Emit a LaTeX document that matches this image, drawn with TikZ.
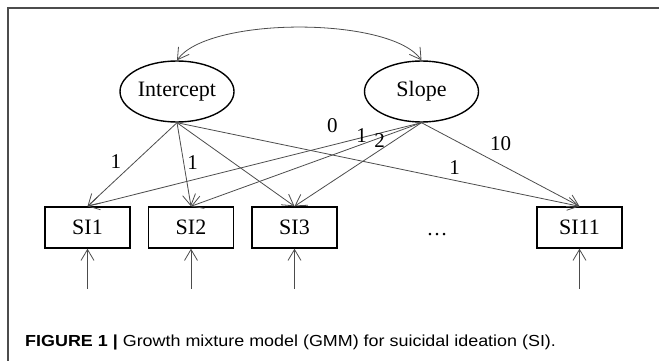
\documentclass[tikz,border=0pt]{standalone}
\usepackage{fontspec}
\setmainfont{Liberation Serif}
\newfontfamily\capfont[FakeStretch=1.12]{Liberation Sans}
\usetikzlibrary{arrows.meta,shapes.geometric,positioning}
\tikzset{
  latent/.style={ellipse,draw,line width=1.4pt,minimum width=114pt,minimum height=61pt,inner sep=0pt,font=\fontsize{22}{24}\selectfont},
  indicator/.style={rectangle,draw,line width=1.4pt,minimum width=85pt,minimum height=41pt,inner sep=0pt,font=\fontsize{22}{24}\selectfont},
  loading/.style={-{Straight Barb[length=11pt,width=13pt]},line width=0.8pt,draw=black!70},
  weight/.style={font=\fontsize{21}{24}\selectfont,inner sep=0pt},
  frame/.style={line width=1.5pt,draw=black!70}
}

\begin{document}
\begin{tikzpicture}[x=1pt,y=-1pt]
      \useasboundingbox (0,0) rectangle (659,361);
      \draw[frame] (8,361) -- (8,8) -- (659,8);

      \node[latent] (int) at (177,91.5) {Intercept};
      \node[latent] (slp) at (421.5,91.5) {Slope};
      \node[indicator] (si1) at (87.5,227.5) {SI1};
      \node[indicator] (si2) at (191,227.5) {SI2};
      \node[indicator] (si3) at (294.5,227.5) {SI3};
      \node[indicator] (si11) at (579.5,227.5) {SI11};
      \node[weight,anchor=base] (dots) at (437,235.5) {\dots};

      \draw[loading,{Straight Barb[length=11pt,width=13pt]}-{Straight Barb[length=11pt,width=13pt]}]
        (int.north) .. controls +(31,-44) and +(-31,-44) .. (slp.north);

      \draw[loading] (int.south) -- (si1.north) node[weight,pos=0.46,xshift=-20pt] (w1) {1};
      \draw[loading] (int.south) -- (si2.north) node[weight,pos=0.48,xshift=9pt] (w2) {1};
      \draw[loading] (int.south) -- (si3.north);
      \draw[loading] (int.south) -- (si11.north) node[weight,pos=0.69,yshift=13pt] (w3) {1};

      \draw[loading] (slp.south) -- (si1.north) node[weight,pos=0.27,xshift=1pt,yshift=20pt] (w4) {0};
      \draw[loading] (slp.south) -- (si2.north) node[weight,pos=0.26,yshift=9pt] (w5) {1};
      \draw[loading] (slp.south) -- (si3.north) node[weight,pos=0.33,yshift=10pt] (w6) {2};
      \draw[loading] (slp.south) -- (si11.north) node[weight,pos=0.5,yshift=21pt] (w7) {10};

      \foreach \s in {si1,si2,si3,si11} {
        \coordinate[below=40pt of \s.south] (e\s);
        \draw[loading] (e\s) -- (\s.south);
      }

      \node[anchor=base west,inner sep=0pt,font=\capfont\fontsize{16}{18}\selectfont] (cap) at (25,346)
        {\textbf{FIGURE 1 |} Growth mixture model (GMM) for suicidal ideation (SI).};
\end{tikzpicture}
\end{document}
